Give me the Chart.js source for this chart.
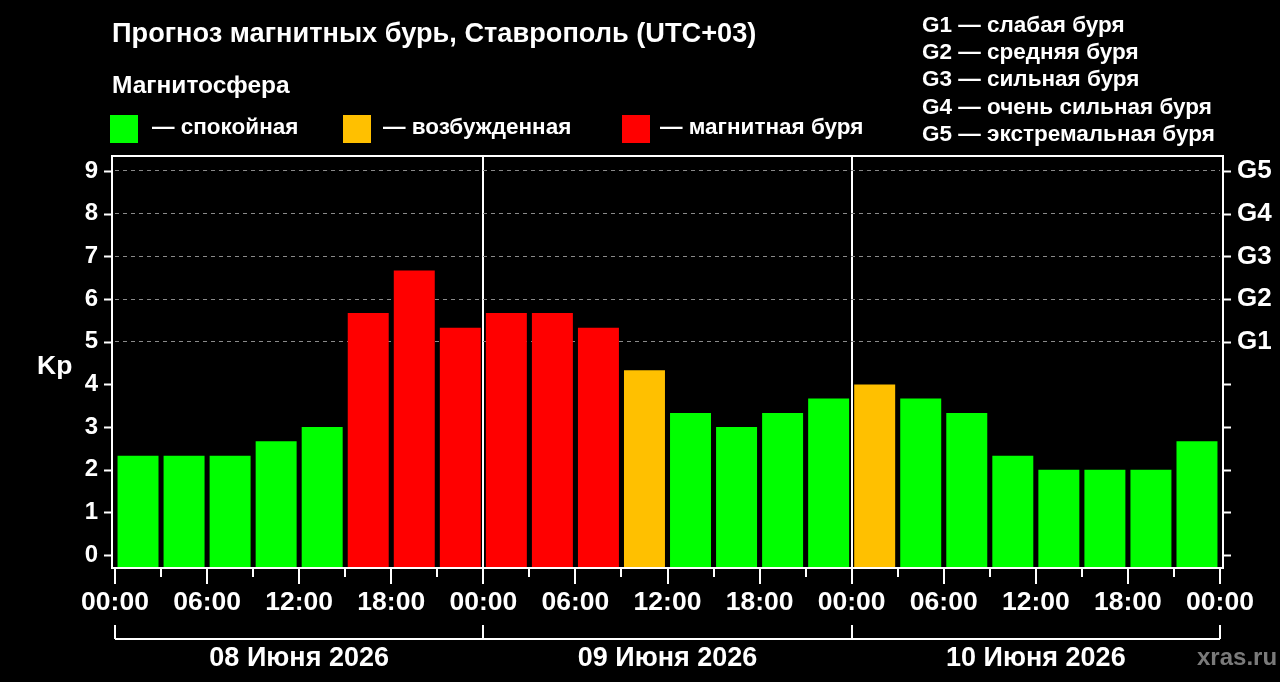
<!DOCTYPE html>
<html lang="ru">
<head>
<meta charset="utf-8">
<script src="https://cdn.jsdelivr.net/npm/chart.js@4.4.1/dist/chart.umd.min.js"></script>
<style>
  html, body { margin: 0; padding: 0; background: #000; }
  #wrap { position: relative; width: 1280px; height: 682px; overflow: hidden; font-family: "Liberation Sans", Arial, sans-serif; color: #fff; font-weight: bold; }
  #wrap canvas { position: absolute; left: 0; top: 0; }
  .t { position: absolute; white-space: nowrap; line-height: 1; }
  .sq { position: absolute; width: 28px; height: 28px; }
</style>
</head>
<body>
<div id="wrap">
  <canvas id="kp-chart" width="1280" height="682"></canvas>
  <div class="t" style="left:112px;top:19px;font-size:27.2px">Прогноз магнитных бурь, Ставрополь (UTC+03)</div>
  <div class="t" style="left:112px;top:73px;font-size:24.5px">Магнитосфера</div>
  <div class="sq" style="left:110px;top:115px;background:#00ff00"></div>
  <div class="t" style="left:152px;top:116px;font-size:22.5px">— спокойная</div>
  <div class="sq" style="left:343px;top:115px;background:#ffc000"></div>
  <div class="t" style="left:383px;top:116px;font-size:22.5px">— возбужденная</div>
  <div class="sq" style="left:622px;top:115px;background:#ff0000"></div>
  <div class="t" style="left:660px;top:116px;font-size:22.5px">— магнитная буря</div>
  <div class="t" style="left:922px;top:14px;font-size:22.5px">G1 — слабая буря</div>
  <div class="t" style="left:922px;top:41px;font-size:22.5px">G2 — средняя буря</div>
  <div class="t" style="left:922px;top:68px;font-size:22.5px">G3 — сильная буря</div>
  <div class="t" style="left:922px;top:96px;font-size:22.5px">G4 — очень сильная буря</div>
  <div class="t" style="left:922px;top:123px;font-size:22.5px">G5 — экстремальная буря</div>
  <div class="t" style="left:37px;top:352px;font-size:26.5px">Kp</div>
  <div class="t" style="left:1197px;top:645px;font-size:24px;color:#7a7a7a">xras.ru</div>
</div>
<script>
// 3-hour slots, 8 per day
const days = ["08 Июня 2026", "09 Июня 2026", "10 Июня 2026"];
const slots = [
  "00:00", "03:00", "06:00", "09:00", "12:00", "15:00", "18:00", "21:00",
  "00:00", "03:00", "06:00", "09:00", "12:00", "15:00", "18:00", "21:00",
  "00:00", "03:00", "06:00", "09:00", "12:00", "15:00", "18:00", "21:00"
];
const kp = [
  2.33, 2.33, 2.33, 2.67, 3.0, 5.67, 6.67, 5.33,
  5.67, 5.67, 5.33, 4.33, 3.33, 3.0, 3.33, 3.67,
  4.0, 3.67, 3.33, 2.33, 2.0, 2.0, 2.0, 2.67
];
const hourTicks = [0, 6, 12, 18, 24, 30, 36, 42, 48, 54, 60, 66, 72];
const kpTicks = [0, 1, 2, 3, 4, 5, 6, 7, 8, 9];
const gLabels = ["G1", "G2", "G3", "G4", "G5"];

const GREEN = "#00ff00", ORANGE = "#ffc000", RED = "#ff0000";
function colorFor(v) {
  if (v >= 5) return RED;
  if (v >= 4) return ORANGE;
  return GREEN;
}

const Y_MIN = -0.3, Y_MAX = 9.35;
const FAMILY = "Liberation Sans, Arial, sans-serif";

// frame, tick marks and the day brackets under the time axis
const frame = {
  id: "frame",
  afterDraw(chart) {
    const { ctx, chartArea: a } = chart;
    const t = chart.scales.t, y = chart.scales.y;
    ctx.save();
    ctx.strokeStyle = "#fff";
    ctx.lineWidth = 2;
    ctx.strokeRect(a.left - 3, a.top, a.right - a.left + 6, a.bottom - a.top);

    ctx.beginPath();
    for (let h = 0; h <= 72; h += 3) {
      const x = Math.round(t.getPixelForValue(h));
      ctx.moveTo(x, a.bottom);
      ctx.lineTo(x, a.bottom + (h % 6 === 0 ? 16 : 9));
    }
    kpTicks.forEach(v => {
      const py = Math.round(y.getPixelForValue(v)) + 0.5;
      ctx.moveTo(a.left - 11, py); ctx.lineTo(a.left - 3, py);
      ctx.moveTo(a.right + 3, py); ctx.lineTo(a.right + 11, py);
    });
    ctx.stroke();

    // day brackets
    const by = a.bottom + 71;
    ctx.beginPath();
    ctx.moveTo(t.getPixelForValue(0), by);
    ctx.lineTo(t.getPixelForValue(72), by);
    [0, 24, 48, 72].forEach(h => {
      const x = Math.round(t.getPixelForValue(h));
      ctx.moveTo(x, by); ctx.lineTo(x, by - 14);
    });
    ctx.stroke();

    ctx.fillStyle = "#fff";
    ctx.font = "bold 27px " + FAMILY;
    ctx.textAlign = "center";
    ctx.textBaseline = "middle";
    days.forEach((d, i) => {
      ctx.fillText(d, t.getPixelForValue(i * 24 + 12), a.bottom + 91);
    });
    ctx.restore();
  }
};

new Chart(document.getElementById("kp-chart"), {
  type: "bar",
  data: {
    labels: slots,
    datasets: [{
      data: kp,
      backgroundColor: kp.map(colorFor),
      borderWidth: 0,
      base: Y_MIN,
      barPercentage: 0.89,
      categoryPercentage: 1.0,
      xAxisID: "x",
      yAxisID: "y"
    }]
  },
  options: {
    responsive: false,
    animation: false,
    layout: { padding: { top: 156, left: 0, right: 0, bottom: 0 } },
    plugins: { legend: { display: false }, tooltip: { enabled: false } },
    scales: {
      x: { display: false, offset: true, grid: { display: false } },
      t: {
        type: "linear",
        position: "bottom",
        offset: false,
        min: 0, max: 72,
        afterBuildTicks: s => { s.ticks = hourTicks.map(v => ({ value: v })); },
        afterFit: s => { s.height = 114; },
        ticks: {
          color: "#fff",
          font: { family: FAMILY, size: 26.5, weight: "bold" },
          padding: 19,
          maxRotation: 0,
          autoSkip: false,
          callback: v => String(v % 24).padStart(2, "0") + ":00"
        },
        grid: {
          offset: false,
          drawTicks: false,
          lineWidth: 2,
          color: c => (c.tick && (c.tick.value === 24 || c.tick.value === 48)) ? "#fff" : "rgba(0,0,0,0)"
        },
        border: { display: false }
      },
      y: {
        position: "left",
        min: Y_MIN, max: Y_MAX,
        afterBuildTicks: s => { s.ticks = kpTicks.map(v => ({ value: v })); },
        afterFit: s => { s.width = 115; },
        ticks: { color: "#fff", font: { family: FAMILY, size: 24, weight: "bold" }, padding: 17 },
        grid: {
          drawTicks: false,
          lineWidth: 1,
          color: c => (c.tick && c.tick.value >= 5) ? "#8a8a8a" : "rgba(0,0,0,0)"
        },
        border: { display: false, dash: [4, 4] }
      },
      g: {
        position: "right",
        min: Y_MIN, max: Y_MAX,
        afterBuildTicks: s => { s.ticks = kpTicks.map(v => ({ value: v })); },
        afterFit: s => { s.width = 60; },
        ticks: {
          color: "#fff",
          font: { family: FAMILY, size: 26, weight: "bold" },
          padding: 17,
          callback: v => (v >= 5 ? gLabels[v - 5] : "")
        },
        grid: { drawOnChartArea: false, drawTicks: false },
        border: { display: false }
      }
    }
  },
  plugins: [frame]
});
</script>
</body>
</html>
